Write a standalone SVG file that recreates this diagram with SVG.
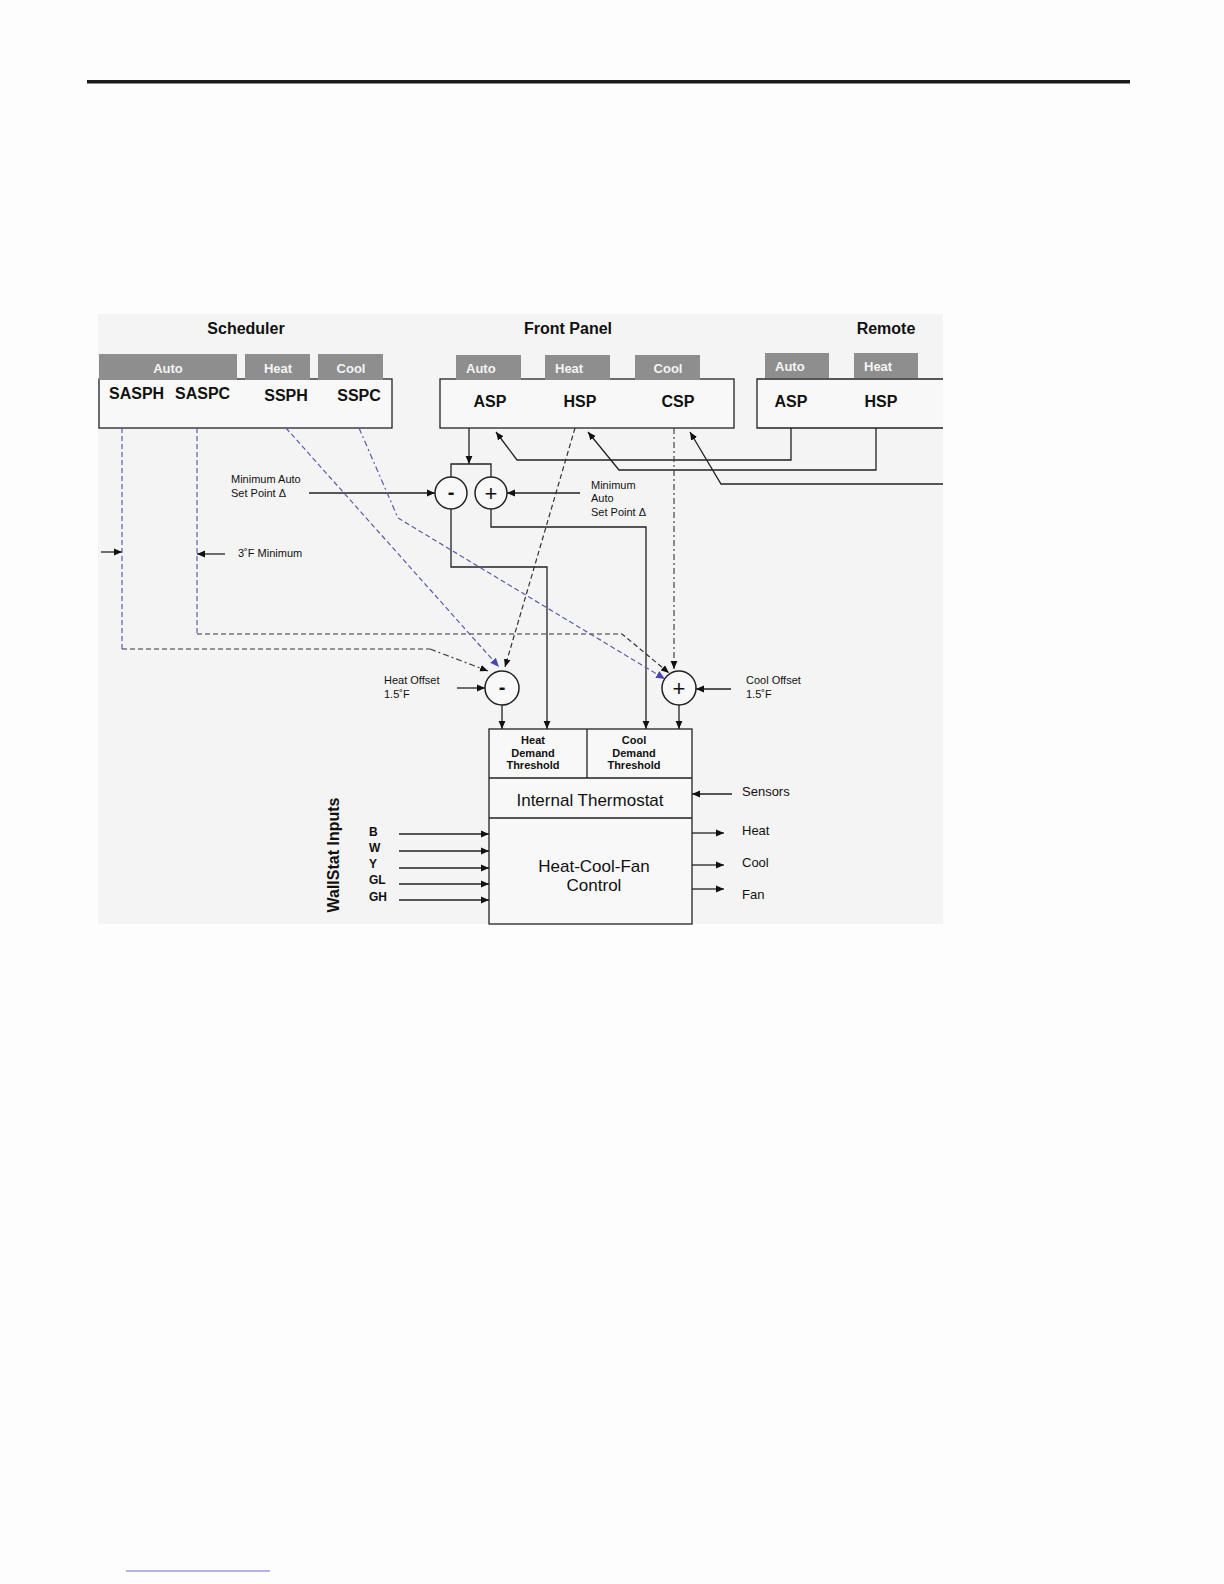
<svg xmlns="http://www.w3.org/2000/svg" width="1224" height="1584" viewBox="0 0 1224 1584">
<defs>
<style>
.t{font-family:"Liberation Sans",Arial,sans-serif;fill:#111}
.b{font-weight:bold}
.tab{fill:#8e8e8e}
.tt{font-family:"Liberation Sans",Arial,sans-serif;font-weight:bold;font-size:13px;fill:#f4f4f4}
.box{fill:#f8f8f8;stroke:#222;stroke-width:1.3}
.ln{fill:none;stroke:#222;stroke-width:1.3}
.bd{fill:none;stroke:#5a5ab4;stroke-width:1.2;stroke-dasharray:5 3}
.bdd{fill:none;stroke:#5a5ab4;stroke-width:1.2;stroke-dasharray:6 3 2 3}
.gd{fill:none;stroke:#333;stroke-width:1.2;stroke-dasharray:5 3}
.gdd{fill:none;stroke:#444;stroke-width:1.2;stroke-dasharray:6 3 2 3}
.sum{fill:#f8f8f8;stroke:#222;stroke-width:1.5}
.s11{font-size:11px}
.s13{font-size:13px}
.s16{font-size:16px}
.s17{font-size:17px}
</style>
<marker id="ah" viewBox="0 0 8 8" refX="8" refY="4" markerWidth="8" markerHeight="8" markerUnits="userSpaceOnUse" orient="auto"><path d="M0,0.6 L8,4 L0,7.4 z" fill="#111"/></marker>
<marker id="ahb" viewBox="0 0 8 8" refX="8" refY="4" markerWidth="9" markerHeight="9" markerUnits="userSpaceOnUse" orient="auto"><path d="M0,0.6 L8,4 L0,7.4 z" fill="#4646b4"/></marker>
</defs>
<rect width="1224" height="1584" fill="#fdfdfd"/>
<rect x="87" y="80" width="1043" height="3.5" fill="#1a1a1a"/>
<line x1="126" y1="1571" x2="270" y2="1571" stroke="#6b6bd6" stroke-width="1"/>
<rect id="panel" x="98" y="314" width="845" height="610" fill="#f4f4f4"/>

<g id="scheduler">
<text class="t b s16" x="246" y="334" text-anchor="middle">Scheduler</text>
<rect class="box" x="99" y="379" width="293" height="49"/>
<rect class="tab" x="99" y="354" width="138" height="26"/>
<rect class="tab" x="245" y="354" width="65" height="26"/>
<rect class="tab" x="318" y="354" width="65" height="26"/>
<text class="tt" x="168" y="373" text-anchor="middle">Auto</text>
<text class="tt" x="278" y="373" text-anchor="middle">Heat</text>
<text class="tt" x="351" y="373" text-anchor="middle">Cool</text>
<text class="t b s16" x="109" y="399">SASPH</text>
<text class="t b s16" x="175" y="399">SASPC</text>
<text class="t b s16" x="286" y="401" text-anchor="middle">SSPH</text>
<text class="t b s16" x="359" y="401" text-anchor="middle">SSPC</text>
</g>

<g id="front-panel">
<text class="t b s16" x="568" y="334" text-anchor="middle">Front Panel</text>
<rect class="box" x="440" y="379" width="294" height="49"/>
<rect class="tab" x="456" y="355" width="65" height="25"/>
<rect class="tab" x="545" y="355" width="65" height="25"/>
<rect class="tab" x="635" y="355" width="65" height="25"/>
<text class="tt" x="466" y="373">Auto</text>
<text class="tt" x="555" y="373">Heat</text>
<text class="tt" x="668" y="373" text-anchor="middle">Cool</text>
<text class="t b s16" x="490" y="407" text-anchor="middle">ASP</text>
<text class="t b s16" x="580" y="407" text-anchor="middle">HSP</text>
<text class="t b s16" x="678" y="407" text-anchor="middle">CSP</text>
</g>

<g id="remote">
<text class="t b s16" x="886" y="334" text-anchor="middle">Remote</text>
<path d="M943,379 H757 V428 H943" fill="#f8f8f8" stroke="#222" stroke-width="1.3"/>
<rect class="tab" x="765" y="353" width="64" height="25"/>
<rect class="tab" x="854" y="353" width="64" height="25"/>
<text class="tt" x="775" y="371">Auto</text>
<text class="tt" x="864" y="371">Heat</text>
<text class="t b s16" x="791" y="407" text-anchor="middle">ASP</text>
<text class="t b s16" x="881" y="407" text-anchor="middle">HSP</text>
</g>

<g id="connectors">
<path class="ln" d="M469,428 V464" marker-end="url(#ah)"/>
<path class="ln" d="M451,477 V464 H491 V477"/>
<path class="ln" d="M309,493 H435" marker-end="url(#ah)"/>
<path class="ln" d="M580,493 H507" marker-end="url(#ah)"/>
<path class="ln" d="M451,509 V567 H547 V729" marker-end="url(#ah)"/>
<path class="ln" d="M491,509 V527 H646 V729" marker-end="url(#ah)"/>
<path class="ln" d="M502,705 V729" marker-end="url(#ah)"/>
<path class="ln" d="M679,705 V729" marker-end="url(#ah)"/>
<path class="ln" d="M457,688 H485" marker-end="url(#ah)"/>
<path class="ln" d="M731,689 H696" marker-end="url(#ah)"/>
<path class="ln" d="M732,794 H692" marker-end="url(#ah)"/>
<path class="ln" d="M586,811 V833" marker-end="url(#ah)"/>
<path class="ln" d="M692,833 H724" marker-end="url(#ah)"/>
<path class="ln" d="M692,865 H724" marker-end="url(#ah)"/>
<path class="ln" d="M692,889 H724" marker-end="url(#ah)"/>
<path class="ln" d="M399,834 H489" marker-end="url(#ah)"/>
<path class="ln" d="M399,851 H489" marker-end="url(#ah)"/>
<path class="ln" d="M399,868 H489" marker-end="url(#ah)"/>
<path class="ln" d="M399,884 H489" marker-end="url(#ah)"/>
<path class="ln" d="M399,900 H489" marker-end="url(#ah)"/>
<path class="ln" d="M791,428 V460 H517 L496,432" marker-end="url(#ah)"/>
<path class="ln" d="M876,428 V470 H619 L588,432" marker-end="url(#ah)"/>
<path class="ln" d="M943,484 H721 L690,432" marker-end="url(#ah)"/>
<path class="ln" d="M101,552 H122" marker-end="url(#ah)"/>
<path class="ln" d="M225,554 H197" marker-end="url(#ah)"/>
<path class="bd" d="M122,428 V649"/>
<path class="gd" d="M122,649 H430"/>
<path class="gdd" d="M430,649 L488,671" marker-end="url(#ah)"/>
<path class="bd" d="M197,428 V634"/>
<path class="gd" d="M197,634 H622 L669,673" marker-end="url(#ah)"/>
<path class="bd" d="M286,428 L499,667" marker-end="url(#ahb)"/>
<path class="bdd" d="M359,428 L398,518"/>
<path class="bd" d="M398,518 L665,679" marker-end="url(#ahb)"/>
<path class="gd" d="M575,428 L505,667" marker-end="url(#ah)"/>
<path class="gdd" d="M674,428 V669" marker-end="url(#ah)"/>
</g>

<g id="sum-auto-minus">
<circle class="sum" cx="451" cy="493" r="16"/>
<text class="t b" font-size="20" x="451" y="499" text-anchor="middle">-</text>
</g>
<g id="sum-auto-plus">
<circle class="sum" cx="491" cy="493" r="16"/>
<text class="t" font-size="22" x="491" y="501" text-anchor="middle">+</text>
</g>
<g id="label-min-auto-left">
<text class="t s11" x="231" y="483">Minimum Auto</text>
<text class="t s11" x="231" y="497">Set Point Δ</text>
</g>
<g id="label-min-auto-right">
<text class="t s11" x="591" y="489">Minimum</text>
<text class="t s11" x="591" y="502">Auto</text>
<text class="t s11" x="591" y="516">Set Point Δ</text>
</g>
<g id="label-3f">
<text class="t s11" x="238" y="557">3˚F Minimum</text>
</g>

<g id="heat-offset">
<circle class="sum" cx="502" cy="688" r="17"/>
<text class="t b" font-size="20" x="502" y="694" text-anchor="middle">-</text>
<text class="t s11" x="384" y="684">Heat Offset</text>
<text class="t s11" x="384" y="698">1.5˚F</text>
</g>
<g id="cool-offset">
<circle class="sum" cx="679" cy="688" r="17"/>
<text class="t" font-size="22" x="679" y="696" text-anchor="middle">+</text>
<text class="t s11" x="746" y="684">Cool Offset</text>
<text class="t s11" x="746" y="698">1.5˚F</text>
</g>

<g id="thermostat">
<rect class="box" x="489" y="729" width="203" height="195"/>
<line class="ln" x1="587" y1="729" x2="587" y2="778"/>
<line class="ln" x1="489" y1="778" x2="692" y2="778"/>
<line class="ln" x1="489" y1="818" x2="692" y2="818"/>
<text class="t b s11" x="533" y="744" text-anchor="middle">Heat</text>
<text class="t b s11" x="533" y="757" text-anchor="middle">Demand</text>
<text class="t b s11" x="533" y="769" text-anchor="middle">Threshold</text>
<text class="t b s11" x="634" y="744" text-anchor="middle">Cool</text>
<text class="t b s11" x="634" y="757" text-anchor="middle">Demand</text>
<text class="t b s11" x="634" y="769" text-anchor="middle">Threshold</text>
<text class="t s17" x="590" y="806" text-anchor="middle">Internal Thermostat</text>
<text class="t s17" x="594" y="872" text-anchor="middle">Heat-Cool-Fan</text>
<text class="t s17" x="594" y="891" text-anchor="middle">Control</text>
</g>

<g id="io-labels">
<text class="t s13" x="742" y="796">Sensors</text>
<text class="t s13" x="742" y="835">Heat</text>
<text class="t s13" x="742" y="867">Cool</text>
<text class="t s13" x="742" y="899">Fan</text>
<text class="t b s16" transform="translate(339,855) rotate(-90)" text-anchor="middle">WallStat Inputs</text>
<text class="t b" font-size="12" x="369" y="836">B</text>
<text class="t b" font-size="12" x="369" y="852">W</text>
<text class="t b" font-size="12" x="369" y="868">Y</text>
<text class="t b" font-size="12" x="369" y="884">GL</text>
<text class="t b" font-size="12" x="369" y="901">GH</text>
</g>
</svg>
